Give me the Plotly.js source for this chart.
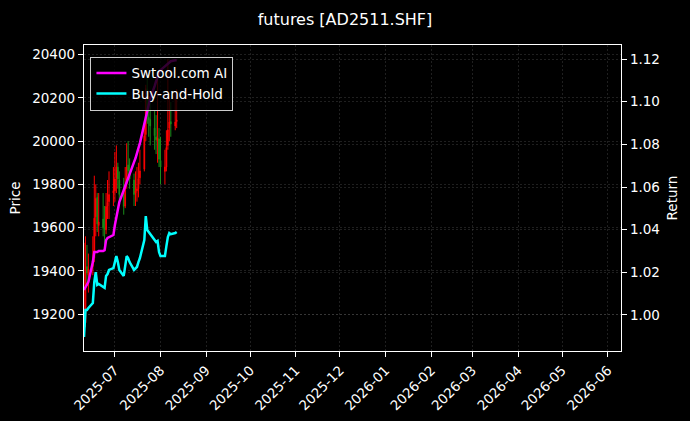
<!DOCTYPE html>
<html>
<head>
<meta charset="utf-8">
<script src="https://cdn.plot.ly/plotly-3.0.1.min.js"></script>
<style>html,body{margin:0;padding:0;background:#000;}#chart{width:690px;height:421px;}</style>
</head>
<body>
<div id="chart"></div>
<script>
const dates = ["2025-06-10","2025-06-11","2025-06-12","2025-06-13","2025-06-16","2025-06-17","2025-06-18","2025-06-19","2025-06-20","2025-06-23","2025-06-24","2025-06-25","2025-06-26","2025-06-27","2025-06-30",
"2025-07-01","2025-07-02","2025-07-03","2025-07-04","2025-07-07","2025-07-08","2025-07-09","2025-07-10","2025-07-11","2025-07-14","2025-07-15","2025-07-16","2025-07-17","2025-07-18","2025-07-21","2025-07-22","2025-07-23","2025-07-24","2025-07-25","2025-07-28","2025-07-29","2025-07-30","2025-07-31",
"2025-08-01","2025-08-04","2025-08-05","2025-08-06","2025-08-07","2025-08-08","2025-08-11","2025-08-12"];
const opens  = [19120,19160,19420,19380,19420,19460,19650,19740,19610,19640,19600,19590,19700,19720,19760,
19770,19830,19880,19820,19760,19700,19800,19890,19860,19820,19760,19770,19780,19830,19870,20030,20240,20110,20100,20060,20020,20000,20010,
19910,19860,19880,19980,20060,20090,20070,20090];
const highs  = [19530,19560,19520,19480,19560,19840,19800,19760,19760,19760,19700,19760,19820,19860,19880,
19950,19980,19900,19860,19830,19880,19990,20000,19920,19850,19860,19880,19900,19960,20080,20260,20300,20200,20180,20140,20120,20300,20060,
20020,19960,20050,20379,20200,20180,20220,20240];
const lows   = [19094,19140,19330,19300,19380,19440,19560,19580,19560,19560,19520,19570,19640,19640,19700,
19720,19760,19780,19720,19660,19690,19780,19820,19780,19700,19700,19720,19740,19800,19860,20000,20080,20020,19980,19960,19940,19900,19880,
19800,19800,19860,19960,20000,20020,20050,20060];
const closes = [19146,19390,19390,19408,19454,19644,19735,19617,19626,19599,19590,19698,19716,19753,19771,
19825,19880,19825,19753,19698,19798,19880,19862,19825,19753,19771,19780,19825,19862,20025,20242,20115,20097,20070,20025,20006,20015,19916,
19880,19880,19970,20052,20088,20079,20088,20097];
const aiReturn = [1.0117,1.0131,1.0145,1.0155,1.0248,1.0295,1.0295,1.0295,1.0300,1.0300,1.0304,1.0351,1.0361,1.0365,1.0375,
1.0422,1.0454,1.0492,1.0529,1.0585,1.0604,1.0632,1.0651,1.0670,1.0717,1.0735,1.0754,1.0782,1.0806,1.0890,1.0923,1.0960,1.0988,1.1016,1.1073,1.1101,1.1119,1.1138,
1.1148,1.1166,1.1171,1.1176,1.1185,1.1190,1.1194,1.1194];
const bhReturn = [0.9897,1.0023,1.0023,1.0033,1.0056,1.0155,1.0201,1.0141,1.0145,1.0131,1.0127,1.0183,1.0192,1.0211,1.0220,
1.0248,1.0276,1.0248,1.0211,1.0183,1.0234,1.0276,1.0267,1.0248,1.0211,1.0220,1.0225,1.0248,1.0267,1.0351,1.0464,1.0398,1.0389,1.0375,1.0351,1.0342,1.0347,1.0295,
1.0276,1.0276,1.0323,1.0365,1.0384,1.0379,1.0384,1.0389];
const seriesNames = ["Swtool.com AI","Buy-and-Hold"];
const titleText = "futures [AD2511.SHF]";

const F = "DejaVu Sans, sans-serif";
const traces = [
  {type:"candlestick", x:dates, open:opens, high:highs, low:lows, close:closes,
   increasing:{line:{color:"#ff0000",width:1}, fillcolor:"#ff0000"},
   decreasing:{line:{color:"#1a8c1a",width:1}, fillcolor:"#1a8c1a"},
   whiskerwidth:0, showlegend:false, hoverinfo:"skip", xaxis:"x", yaxis:"y"},
  {type:"scatter", mode:"lines", x:dates, y:aiReturn, name:seriesNames[0],
   line:{color:"#ff00ff", width:2.5}, xaxis:"x", yaxis:"y2"},
  {type:"scatter", mode:"lines", x:dates, y:bhReturn, name:seriesNames[1],
   line:{color:"#00ffff", width:2.5}, xaxis:"x", yaxis:"y2"}
];
const gridc = "rgba(128,128,128,0.4)";
const gdash = "2px,2px";
const layout = {
  width:690, height:421,
  paper_bgcolor:"#000", plot_bgcolor:"#000",
  margin:{l:84, r:69, t:45, b:70},
  font:{family:F, color:"#fff", size:13.5},
  title:{text:titleText, x:0.5, xanchor:"center", y:0.955, yanchor:"middle", font:{family:F, size:16, color:"#fff"}},
  showlegend:true,
  legend:{x:0.012, y:0.962, xanchor:"left", yanchor:"top", bgcolor:"rgba(0,0,0,0.8)", bordercolor:"#cccccc", borderwidth:1,
          font:{family:F, size:13.5, color:"#fff"}, tracegroupgap:0, itemwidth:30},
  xaxis:{type:"date", range:["2025-06-10","2026-06-10"], dtick:"M1", tick0:"2025-07-01", tickformat:"%Y-%m",
         tickangle:-45, ticks:"outside", ticklen:5, tickcolor:"#fff", showline:true, linecolor:"#fff", linewidth:1.2, mirror:true,
         showgrid:true, gridcolor:gridc, griddash:gdash, gridwidth:0.6, zeroline:false,
         rangeslider:{visible:false}, tickfont:{family:F, size:13.5, color:"#fff"}},
  yaxis:{range:[19030,20444], dtick:200, tick0:19200, tickformat:"d", ticks:"outside", ticklen:5, tickcolor:"#fff",
         showline:true, linecolor:"#fff", linewidth:1.2, showgrid:true, gridcolor:gridc, griddash:gdash, gridwidth:0.6, zeroline:false,
         title:{text:"Price", font:{family:F, size:13.5, color:"#fff"}, standoff:8}, tickfont:{family:F, size:13.5, color:"#fff"}},
  yaxis2:{overlaying:"y", side:"right", range:[0.9831,1.1266], dtick:0.02, tick0:1.0, tickformat:".2f", ticks:"outside", ticklen:5, tickcolor:"#fff",
          showline:true, linecolor:"#fff", linewidth:1.2, showgrid:true, gridcolor:gridc, griddash:gdash, gridwidth:0.6, zeroline:false,
          title:{text:"Return", font:{family:F, size:13.5, color:"#fff"}, standoff:8}, tickfont:{family:F, size:13.5, color:"#fff"}}
};
Plotly.newPlot("chart", traces, layout, {staticPlot:true, displayModeBar:false});
</script>
</body>
</html>
